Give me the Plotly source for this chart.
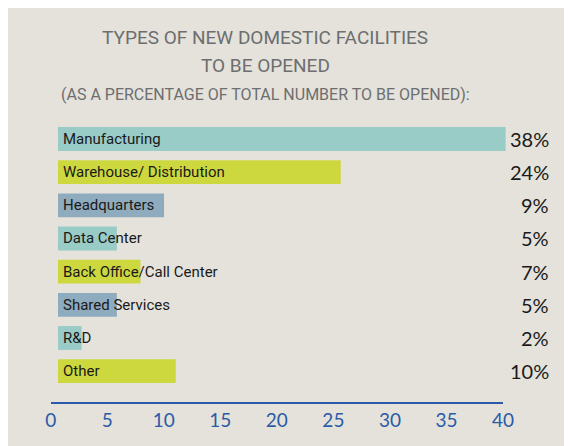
import plotly.graph_objects as go

# data
categories = ['Manufacturing', 'Warehouse/ Distribution', 'Headquarters', 'Data Center',
              'Back Office/Call Center', 'Shared Services', 'R&D', 'Other']
shares = [38, 24, 9, 5, 7, 5, 2, 10]
pct_labels = ['38%', '24%', '9%', '5%', '7%', '5%', '2%', '10%']
axis_ticks = [0, 5, 10, 15, 20, 25, 30, 35, 40]

title_lines = ['TYPES OF NEW DOMESTIC FACILITIES', 'TO BE OPENED',
               '(AS A PERCENTAGE OF TOTAL NUMBER TO BE OPENED):']

teal = '#99cbc7'
lime = '#cdd83f'
steel = '#8fabbe'
bar_colors = [teal, lime, steel, teal, lime, steel, teal, lime]

W, H = 572, 446
OFF = 8   # page margin the browser puts around the plot div
bg = '#e4e2da'
blue = '#2b5ba8'
grey = '#6d6e70'
label_font = 'Roboto, sans-serif'


def px(x):
    return (x - OFF) / W


def py(y):
    return 1 - (y - OFF) / H


# pixel geometry of the original picture
ax_left, ax_right = 50.7, 503.0      # 0 and 40 on the printed axis
plot_top, plot_bottom = 122.4, 402.0
bar_start = 58.0
px_per_unit = 11.78                  # bars are drawn slightly longer than the printed axis

fig = go.Figure()

fig.add_trace(go.Bar(
    y=categories, x=shares, base=0, orientation='h',
    marker=dict(color=bar_colors, line=dict(width=0)),
    width=0.72, xaxis='x2', yaxis='y', hoverinfo='skip', showlegend=False,
))

# invisible trace so the visible axis gets drawn
fig.add_trace(go.Scatter(x=[0, 40], y=[categories[0], categories[0]], mode='markers',
                         marker=dict(opacity=0), xaxis='x', yaxis='y',
                         hoverinfo='skip', showlegend=False))

annotations = []
for cat in categories:
    annotations.append(dict(x=0, y=cat, xref='x2', yref='y', text=cat, showarrow=False,
                            xanchor='left', yanchor='middle', xshift=3,
                            font=dict(family=label_font, size=15, color='#1a1a1a')))
for cat, lab in zip(categories, pct_labels):
    annotations.append(dict(x=px(551), y=cat, xref='paper', yref='y', text=lab,
                            showarrow=False, xanchor='right', yanchor='middle',
                            font=dict(family='Lato, sans-serif', size=20, color='#1a1a1a')))
for line, yy, size in zip(title_lines, [37.7, 65.3, 94.5], [19, 19, 16]):
    annotations.append(dict(x=px(265), y=py(yy), xref='paper', yref='paper', text=line,
                            showarrow=False, xanchor='center', yanchor='middle',
                            font=dict(family=label_font, size=size, color=grey)))

# x2 spans the whole paper width
x2_lo = (OFF - bar_start) / px_per_unit
x2_hi = (OFF + W - bar_start) / px_per_unit

fig.update_layout(
    width=W, height=H,
    margin=dict(l=0, r=0, t=0, b=0, autoexpand=False),
    paper_bgcolor=bg, plot_bgcolor=bg,
    xaxis=dict(domain=[px(ax_left), px(ax_right)], range=[0, 40], tickvals=axis_ticks,
               showline=True, linecolor=blue, linewidth=2, ticks='inside', ticklen=8,
               tickwidth=2, tickcolor=blue, showgrid=False, zeroline=False,
               tickfont=dict(family='Lato, sans-serif', size=19, color=blue),
               anchor='y', fixedrange=True, automargin=False),
    xaxis2=dict(domain=[0, 1], range=[x2_lo, x2_hi],
                visible=False, anchor='y', fixedrange=True, automargin=False),
    yaxis=dict(domain=[py(plot_bottom), py(plot_top)], range=[7.93, -0.5],
               categoryorder='array', categoryarray=categories, visible=False,
               fixedrange=True, automargin=False),
    annotations=annotations,
)

fig.write_html('out.html')
